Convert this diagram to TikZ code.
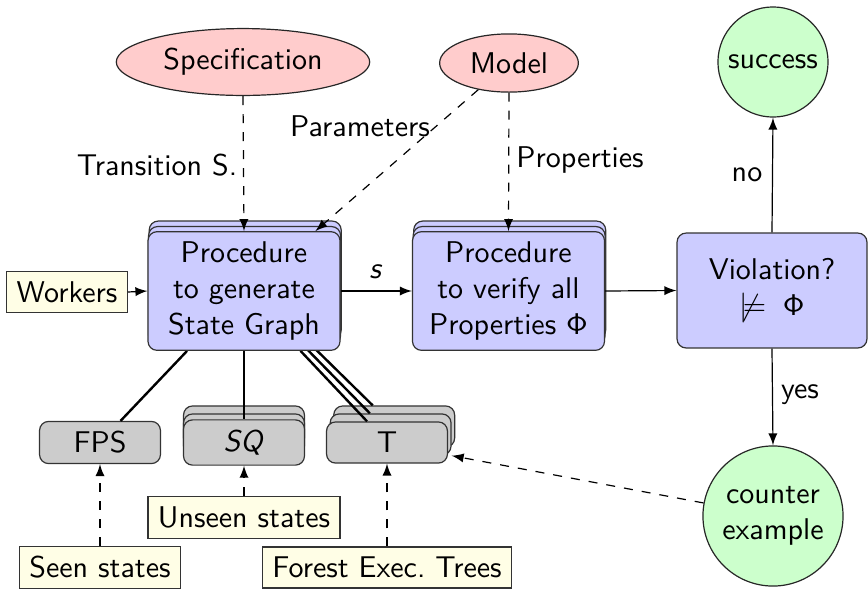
\documentclass[tikz,border=0pt]{standalone}
\usepackage{amssymb}
\usetikzlibrary{shapes.geometric}
\pgfdeclarelayer{front}
\pgfsetlayers{main,front}

\tikzset{
  every node/.style={font=\sffamily},
  lbl/.style={inner sep=0pt},
  source/.style={ellipse, draw=black!85, fill=red!20, minimum height=18.3pt},
  goal/.style={circle, draw=black!85, fill=green!20, align=center, inner sep=0pt},
  procbox/.style={rectangle, rounded corners=3pt, draw=black!80, fill=blue!20,
    align=center, minimum width=64pt, minimum height=39.3pt},
  store/.style={rectangle, rounded corners=3pt, draw=black!80, fill=black!20,
    minimum width=40.3pt, minimum height=13.7pt},
  input/.style={rectangle, draw=black!80, fill=yellow!10, minimum height=13pt},
  flow/.style={-latex},
  feed/.style={-latex, dashed},
  link/.style={thick},
}

\begin{document}
\begin{tikzpicture}[x=0.33333pt, y=-0.33333pt]
\useasboundingbox (0,0) rectangle (868,589);

% generating procedure, kept above its stacked copies and the links
\begin{pgfonlayer}{front}
  \node[procbox] (proc1) at (244,291) {Procedure\\to generate\\State Graph};
\end{pgfonlayer}

% inputs
\node[source, minimum width=81pt] (spec) at (243,62) {Specification};
\node[source, minimum width=45.3pt] (model) at (509,63) {Model};
\node[input] (workers) at (67,292) {Workers};

% outcomes
\node[goal, minimum size=36.7pt] (success) at (773,62) {success};
\node[goal, minimum size=46.7pt] (counter) at (773,516) {counter\\example};

% stacked procedures
\node[procbox] (Pc2) at (245.2,280) {};
\node[procbox] (Pc1) at (244.6,285.5) {};
\node[procbox] (Qc2) at (509.7,280) {};
\node[procbox] (Qc1) at (509.1,285.5) {};
\node[procbox] (proc2) at (508.5,291) {Procedure\\to verify all\\Properties $\mathsf{\Phi}$};
\node[procbox, minimum width=63.3pt, minimum height=38.3pt] (viol) at (772,290.5)
  {Violation?\\$\not\models\;\mathsf{\Phi}$};

% data structures
\node[store] (FPS) at (100,442.5) {FPS};
\node[store] (Sc2) at (244,426.5) {};
\node[store] (Sc1) at (244,434.5) {};
\node[store] (SQ) at (244,442.5) {\textsl{SQ}};
\node[store] (Tc2) at (394.2,426.5) {};
\node[store] (Tc1) at (390.6,434.5) {};
\node[store] (T) at (387,442.5) {T};

% their contents
\node[input] (seen) at (100,567.5) {Seen states};
\node[input] (unseen) at (244,517.5) {Unseen states};
\node[input] (forest) at (387,567.5) {Forest Exec.\ Trees};

% labels
\node[lbl] (lTrans) at (157,165) {Transition S.};
\node[lbl] (lPar) at (360,126) {Parameters};
\node[lbl] (lProp) at (580,160) {Properties};
\node[lbl] (lS) at (376,272) {\textsl{s}};
\node[lbl] (lNo) at (747,175) {no};
\node[lbl] (lYes) at (800,395) {yes};

% links from the generator to its data structures
\draw[link] (proc1) -- (FPS);
\draw[link] (proc1) -- (SQ);
\draw[link] (proc1) -- (T);
\draw[link] (Pc1) -- (Tc1);
\draw[link] (Pc2) -- (Tc2);

% dashed feeds
\draw[feed] (spec.south) -- (proc1.north);
\draw[feed] (model) -- (proc1.40);
\draw[feed] (model.south) -- (proc2.north);
\draw[feed] (workers.east) -- (proc1.west);
\draw[feed] (seen.north) -- (FPS.south);
\draw[feed] (unseen.north) -- (SQ.south);
\draw[feed] (forest.north) -- (T.south);
\draw[feed] (counter) -- (Tc1.south east);

% main flow
\draw[flow] (proc1.east) -- (proc2.west);
\draw[flow] (proc2.east) -- (viol.west);
\draw[flow] (viol.north) -- (success.south);
\draw[flow] (viol.south) -- (counter.north);
\end{tikzpicture}
\end{document}
